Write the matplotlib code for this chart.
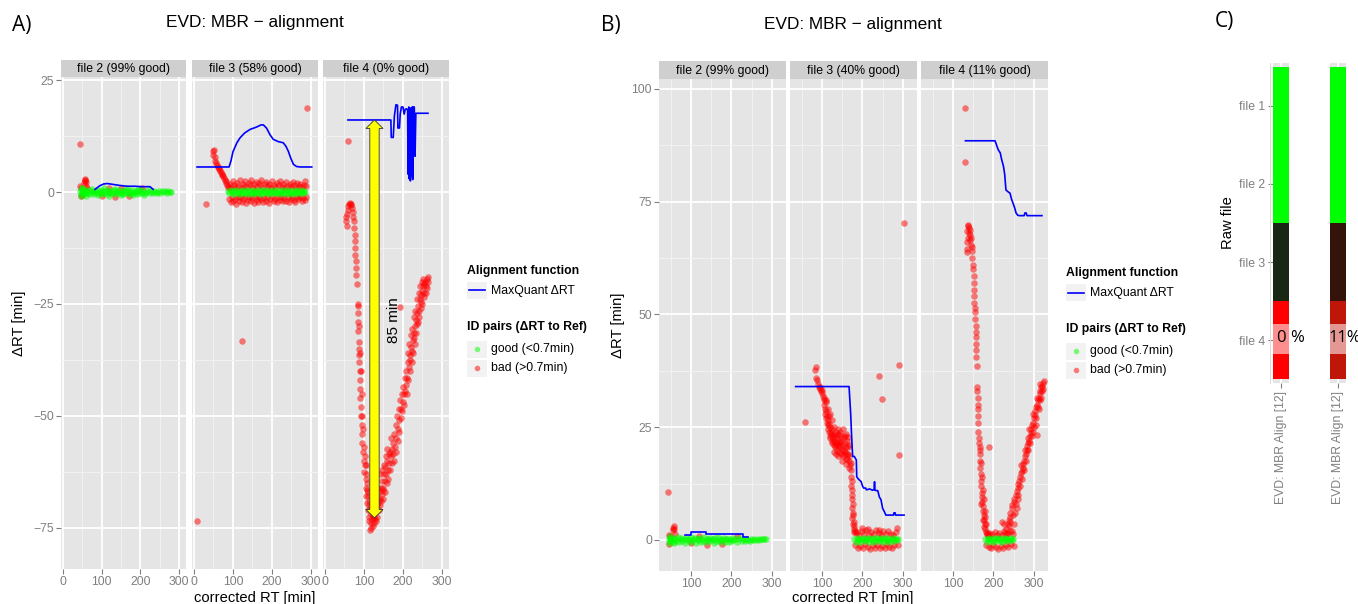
import numpy as np
import matplotlib.pyplot as plt
from matplotlib.patches import Polygon

# =========================
# EVD: MBR - alignment (panels A, B, C)
# =========================

# -------- 1) Data (read off the picture) --------
facet_titles_a = ["file 2 (99% good)", "file 3 (58% good)", "file 4 (0% good)"]
facet_titles_b = ["file 2 (99% good)", "file 3 (40% good)", "file 4 (11% good)"]

# panel A, file 2
a2_good = [(45, 0.3), (46, -0.9), (47, -0.4), (48, 1.0), (49, 0.5), (50, 0.8), (51, -0.2), (53, 0.1),
           (55, -0.5), (57, 0.4), (59, -0.3), (60, -0.8), (62, 0.2), (65, -0.1), (68, 0.5), (71, -0.4),
           (74, 0.0), (75, 0.7), (77, 0.3), (80, -0.5), (83, 0.2), (86, -0.3), (89, 0.4), (90, -0.7),
           (92, -0.2), (95, 0.1), (98, 0.5), (101, -0.4), (104, 0.2), (105, 0.8), (107, -0.1), (110, 0.3),
           (113, -0.5), (116, 0.4), (119, 0.0), (120, -0.8), (122, -0.3), (125, 0.2), (128, -0.2),
           (131, 0.5), (134, -0.4), (135, 0.7), (137, 0.1), (140, 0.3), (143, -0.3), (146, 0.4),
           (149, -0.1), (150, -0.7), (152, 0.2), (155, -0.5), (158, 0.3), (161, -0.2), (164, 0.5),
           (165, 0.8), (167, 0.0), (170, -0.4), (173, 0.2), (176, -0.1), (179, 0.4), (180, -0.7),
           (182, -0.3), (185, 0.1), (188, 0.3), (191, -0.4), (194, 0.2), (195, 0.6), (197, -0.2),
           (200, 0.4), (204, -0.1), (208, 0.3), (210, -0.6), (212, -0.3), (216, 0.1), (220, 0.4),
           (224, -0.2), (228, 0.2), (232, -0.3), (236, 0.3), (240, 0.0), (244, -0.2), (248, 0.3),
           (252, -0.1), (256, 0.2), (260, 0.0), (264, 0.3), (268, -0.1), (272, 0.2), (276, 0.1), (280, 0.0)]
a2_bad = [(44, 10.7), (45, 1.3), (46, -0.9), (47, 0.9), (48, -0.6), (55, 2.0), (56, 2.8), (57, 2.5),
          (58, 3.0), (59, 2.2), (60, 1.4), (62, 0.9), (100, -0.9), (118, 1.0), (135, -1.0), (150, 0.9),
          (172, -0.9), (205, 0.9)]
a2_line = [(83, 0.6), (95, 1.4), (105, 1.8), (115, 1.9), (130, 1.7), (145, 1.5), (165, 1.3), (185, 1.3),
           (205, 1.2), (225, 1.2), (233, 0.6)]

# panel A, file 3
a3_good = [(88, 0.2), (91, -0.3), (94, 0.4), (97, -0.1), (100, 0.3), (103, -0.4), (106, 0.1), (109, 0.5),
           (112, -0.2), (115, 0.3), (118, -0.5), (121, 0.2), (124, -0.1), (127, 0.4), (130, -0.3),
           (133, 0.1), (136, 0.5), (139, -0.4), (142, 0.2), (145, -0.2), (148, 0.4), (151, -0.5),
           (154, 0.1), (157, 0.3), (160, -0.3), (163, 0.5), (166, -0.1), (169, 0.2), (172, -0.4),
           (175, 0.4), (178, -0.2), (181, 0.1), (184, 0.5), (187, -0.3), (190, 0.2), (193, -0.5),
           (196, 0.3), (199, -0.1), (202, 0.4), (205, -0.3), (208, 0.1), (211, 0.5), (214, -0.2),
           (217, 0.3), (220, -0.4), (223, 0.2), (226, -0.1), (229, 0.4), (232, -0.3), (235, 0.1),
           (238, 0.5), (241, -0.4), (244, 0.2), (247, -0.2), (250, 0.3), (253, -0.5), (256, 0.1),
           (259, 0.4), (262, -0.3), (265, 0.2), (268, -0.1), (271, 0.4), (274, -0.3), (277, 0.2),
           (280, -0.2), (283, 0.3), (285, 0.0)]
a3_bad = [(49, 9.1), (50, 8.3), (51, 9.5), (53, 7.8), (55, 7.0), (57, 6.6), (59, 6.0), (61, 5.6),
          (63, 5.4), (65, 5.1), (67, 4.8), (69, 4.5), (71, 4.1), (73, 3.8), (75, 3.5), (77, 3.2),
          (79, 2.8), (81, 2.4), (83, 2.0), (85, 1.6), (87, 1.2), (89, 1.0),
          (92, 1.8), (96, 1.2), (99, 2.4), (103, 1.5), (106, 0.9), (110, 2.1), (114, 1.4), (117, 2.7),
          (121, 1.0), (125, 1.9), (128, 1.3), (132, 2.5), (136, 1.1), (140, 2.0), (143, 1.6), (147, 2.8),
          (151, 1.0), (155, 1.7), (159, 2.3), (162, 1.2), (166, 2.0), (170, 1.5), (173, 2.6), (177, 1.0),
          (181, 1.8), (185, 2.2), (189, 1.3), (193, 1.9), (197, 1.0), (201, 2.4), (205, 1.5), (209, 1.1),
          (213, 2.0), (217, 1.6), (221, 2.5), (225, 1.2), (229, 1.8), (233, 1.0), (237, 2.2), (241, 1.4),
          (245, 1.9), (249, 1.1), (253, 2.3), (257, 1.5), (261, 1.0), (265, 2.0), (269, 1.4), (273, 1.8),
          (277, 1.1), (281, 1.6), (285, 2.4), (288, 1.3),
          (90, -1.5), (94, -2.3), (98, -1.1), (101, -2.0), (105, -1.6), (108, -2.6), (112, -1.2),
          (116, -1.9), (119, -1.0), (123, -2.2), (127, -1.5), (131, -1.1), (134, -2.4), (138, -1.7),
          (142, -1.2), (146, -2.0), (149, -1.4), (153, -2.5), (157, -1.1), (161, -1.8), (164, -2.2),
          (168, -1.0), (172, -1.6), (176, -2.3), (180, -1.3), (184, -1.9), (188, -1.1), (192, -2.4),
          (196, -1.5), (200, -1.0), (204, -2.0), (208, -1.6), (212, -2.3), (216, -1.2), (220, -1.8),
          (224, -1.0), (228, -2.1), (232, -1.4), (236, -1.9), (240, -1.1), (244, -2.2), (248, -1.5),
          (252, -1.0), (256, -1.8), (260, -2.3), (264, -1.2), (268, -1.6), (272, -1.0), (276, -1.9),
          (280, -1.3), (284, -1.7), (287, -1.0),
          (32, -2.6), (290, 18.8), (124, -33.3), (7, -73.5)]
a3_line = [(8, 5.6), (90, 5.6), (95, 7.0), (100, 9.0), (110, 11.0), (118, 12.1), (130, 13.2), (144, 14.0),
           (160, 14.5), (172, 15.0), (178, 15.0), (186, 14.3), (195, 12.8), (203, 11.8), (215, 11.3),
           (229, 11.0), (236, 10.2), (242, 9.1), (248, 7.6), (255, 6.2), (263, 5.7), (273, 5.6), (302, 5.6)]

# panel A, file 4
a4_good = []
a4_bad = [(59, 11.4), (192, -25.7),
          (54, -5.5), (55, -6.5), (56, -7.5), (57, -5.0), (58, -4.0), (60, -3.2), (62, -2.7), (64, -2.5),
          (66, -2.7), (68, -3.0), (70, -3.5), (72, -4.5), (73, -5.5), (74, -6.5), (75, -8.0), (76, -9.5),
          (77, -11.0), (78, -12.5), (78, -14.0), (79, -15.5), (80, -17.0), (80, -18.5), (81, -20.5),
          (84, -25.5), (85, -27.0), (85, -29.0), (86, -31.0), (87, -33.5), (87, -35.0), (88, -36.5),
          (88, -38.0), (89, -40.0), (90, -42.0), (90, -44.0), (91, -46.0), (92, -48.0), (93, -50.0),
          (94, -52.0), (95, -54.0), (96, -56.0), (98, -58.0), (100, -60.0), (101, -62.5), (103, -61.0),
          (104, -64.0), (105, -66.0), (106, -68.0), (108, -69.5), (110, -71.0), (112, -72.5),
          (114, -73.5), (115, -75.5), (117, -75.0), (119, -74.0), (121, -73.0), (123, -72.5),
          (125, -71.5), (127, -72.5), (129, -73.0), (131, -71.0), (133, -70.0), (135, -68.5),
          (137, -69.5), (139, -67.0), (141, -68.5), (143, -66.0), (145, -67.5), (147, -64.5),
          (149, -66.0), (151, -63.0), (153, -64.5), (155, -61.5), (157, -63.0), (159, -60.0),
          (161, -62.0), (163, -58.5), (165, -60.5), (167, -62.0), (169, -59.0), (171, -57.5),
          (173, -60.5), (175, -56.0), (177, -54.0), (179, -57.0), (181, -52.0), (183, -55.0),
          (185, -50.0), (187, -53.0), (189, -48.5), (191, -51.0), (193, -46.5), (195, -48.5),
          (197, -45.0), (199, -47.0), (201, -43.5), (203, -45.0), (205, -41.5), (207, -43.0),
          (209, -40.0), (211, -41.5), (213, -38.0), (215, -39.0), (217, -36.5), (219, -37.5),
          (221, -34.5), (223, -35.5), (225, -33.0), (227, -31.5), (229, -32.5), (231, -30.0),
          (233, -28.5), (235, -29.5), (237, -27.0), (239, -25.5), (241, -26.5), (243, -24.0),
          (245, -23.0), (247, -24.5), (249, -22.0), (251, -21.0), (253, -22.5), (255, -20.5),
          (257, -20.0), (259, -21.0), (261, -19.5), (263, -19.0), (264, -20.0),
          (86, -25.0), (88, -30.0), (90, -36.0), (92, -40.0), (94, -45.0), (96, -50.0), (98, -53.0),
          (100, -57.0), (102, -59.0), (104, -61.0), (106, -63.0), (107, -65.0), (109, -66.5),
          (111, -68.0), (113, -70.0),
          (110, -67.0), (113, -69.0), (116, -70.5), (118, -72.0), (120, -70.0), (122, -69.0),
          (124, -74.5), (126, -74.0), (128, -70.0), (130, -68.0), (132, -73.5), (134, -72.5),
          (136, -66.0), (138, -71.0), (140, -70.0), (142, -63.0), (144, -69.0), (146, -62.0),
          (148, -68.5), (150, -66.5), (152, -61.0), (154, -67.0), (156, -59.0), (158, -65.0),
          (160, -57.5), (162, -64.0), (166, -58.0), (170, -55.0), (174, -58.5), (178, -60.0),
          (182, -58.0), (186, -55.5), (190, -53.5), (194, -50.5), (198, -49.0), (202, -47.5),
          (206, -44.5), (210, -45.0), (214, -42.0), (218, -40.0), (222, -38.0), (226, -36.0),
          (230, -34.0), (234, -31.5), (238, -29.0), (242, -28.0), (246, -26.0), (250, -25.0),
          (254, -23.5), (258, -22.5), (262, -21.5), (212, -36.0), (216, -34.0), (220, -32.0),
          (224, -30.5), (228, -28.0), (232, -26.5), (236, -24.0), (240, -22.5), (244, -21.0),
          (248, -20.0), (252, -19.5)]
a4_line = [(59, 16.1), (169, 16.1), (170, 12.2), (175, 12.2), (178, 17.0), (182, 19.5), (186, 19.4),
           (187, 14.3), (191, 14.3), (193, 17.5), (196, 19.0), (200, 19.0), (203, 17.4), (206, 18.5),
           (210, 18.6), (212, 18.2), (213, 4.0), (215, 19.0), (216, 3.0), (218, 18.8), (219, 2.5),
           (221, 18.5), (222, 3.5), (224, 19.0), (225, 2.8), (226, 19.0), (229, 19.0), (231, 8.0),
           (233, 17.6), (264, 17.6)]
arrow_x, arrow_top, arrow_bottom = 127, 16.1, -72.8
arrow_label = "85 min"

# panel B, file 2
b2_good = [(45, 0.2), (46, -0.8), (47, -0.3), (48, 0.9), (49, 0.4), (51, -0.1), (53, 0.5), (55, -0.4),
           (57, 0.2), (59, -0.6), (61, 0.3), (64, -0.2), (67, 0.6), (70, -0.5), (73, 0.1), (76, 0.4),
           (79, -0.3), (82, 0.2), (85, -0.6), (88, 0.5), (91, -0.1), (94, 0.3), (97, -0.5), (100, 0.6),
           (103, -0.2), (106, 0.1), (109, 0.4), (112, -0.6), (115, 0.3), (118, -0.1), (121, 0.5),
           (124, -0.4), (127, 0.2), (130, -0.2), (133, 0.6), (136, -0.5), (139, 0.1), (142, 0.3),
           (145, -0.3), (148, 0.5), (151, -0.1), (154, 0.2), (157, -0.6), (160, 0.4), (163, -0.2),
           (166, 0.6), (169, 0.0), (172, -0.5), (175, 0.3), (178, -0.1), (181, 0.5), (184, -0.4),
           (187, 0.1), (190, 0.3), (193, -0.5), (196, 0.2), (199, -0.2), (202, 0.5), (205, -0.1),
           (209, 0.3), (213, -0.4), (217, 0.1), (221, 0.4), (225, -0.3), (229, 0.2), (233, -0.2),
           (237, 0.3), (241, 0.0), (245, -0.2), (249, 0.2), (253, -0.1), (257, 0.3), (261, 0.0),
           (265, 0.2), (269, -0.1), (273, 0.2), (277, 0.1), (281, 0.3), (285, 0.1)]
b2_bad = [(44, 10.6), (45, 1.0), (46, -0.9), (48, 0.8), (55, 2.2), (56, 2.7), (57, 3.1), (58, 2.4),
          (60, 1.2), (100, -0.8), (120, 0.9), (140, -1.2), (178, -1.0), (215, 0.8)]
b2_line = [(85, 1.1), (99, 1.1), (99, 1.8), (138, 1.8), (138, 1.3), (228, 1.3), (228, 0.6), (240, 0.6)]

# panel B, file 3
b3_good = [(180, 0.2), (183, -0.4), (186, 0.5), (189, -0.1), (192, 0.3), (195, -0.5), (198, 0.1),
           (201, 0.4), (204, -0.3), (207, 0.2), (210, -0.1), (213, 0.5), (216, -0.4), (219, 0.1),
           (222, 0.3), (225, -0.5), (228, 0.4), (231, -0.2), (234, 0.1), (237, 0.5), (240, -0.3),
           (243, 0.2), (246, -0.1), (249, 0.4), (252, -0.4), (255, 0.2), (258, 0.5), (261, -0.2),
           (264, 0.1), (267, -0.5), (270, 0.3), (273, -0.1), (276, 0.4), (279, -0.3), (282, 0.2),
           (285, -0.1), (287, 0.3)]
b3_bad = [(59, 26.1), (84, 37.7), (85, 38.3), (86, 36.0), (87, 35.5), (90, 34.5), (92, 34.0), (94, 33.5),
          (96, 33.8), (98, 33.0), (100, 32.5), (101, 33.2), (103, 32.0), (104, 31.0), (105, 30.0),
          (106, 31.5), (107, 29.0), (108, 28.0), (109, 30.5), (110, 27.0), (111, 28.5), (112, 26.0),
          (113, 27.5), (114, 25.5), (115, 26.5), (116, 24.5), (117, 25.8), (118, 24.0), (119, 23.0),
          (120, 25.0), (121, 22.5), (122, 24.0), (123, 23.5), (124, 22.0), (125, 24.5), (126, 21.5),
          (127, 23.0), (128, 22.5), (129, 21.0), (130, 23.5), (131, 22.0), (132, 20.5), (133, 21.8),
          (134, 23.0), (135, 21.0), (136, 22.5), (137, 20.0), (138, 21.5), (139, 23.5), (140, 21.0),
          (141, 19.5), (142, 22.0), (143, 20.5), (144, 24.0), (145, 21.5), (146, 19.0), (147, 20.5),
          (148, 22.0), (150, 20.0), (151, 18.5), (152, 21.0), (153, 24.5), (154, 20.0), (155, 19.0),
          (156, 21.5), (157, 23.0), (158, 19.5), (159, 18.0), (160, 20.5), (161, 22.0), (162, 19.0),
          (163, 18.0), (164, 22.9), (165, 19.0), (166, 21.0), (167, 17.5), (168, 18.5), (169, 16.5),
          (110, 31.0), (115, 29.0), (118, 27.5), (120, 28.0), (125, 26.5), (130, 25.0), (135, 24.0),
          (140, 24.5), (145, 23.2), (150, 22.5), (155, 22.8), (160, 23.5), (165, 20.5), (130, 19.5),
          (135, 19.0), (140, 18.5), (150, 17.5), (160, 16.8), (166, 16.0),
          (172, 17.0), (173, 15.5), (172, 14.0), (174, 13.0), (173, 12.0), (175, 11.0), (174, 10.0),
          (175, 9.0), (176, 8.0), (175, 7.0), (176, 6.0), (177, 5.5), (175, 4.8), (178, 4.0),
          (177, 3.5), (179, 3.0), (180, 2.5), (182, 2.0), (178, 1.8), (184, 1.5),
          (182, -1.2), (186, 1.8), (189, -1.8), (192, 1.1), (195, -1.4), (198, 2.0), (201, -1.9),
          (204, 1.3), (207, -1.0), (210, 2.2), (213, -1.6), (216, 1.0), (219, -2.0), (222, 1.7),
          (225, -1.2), (228, 1.2), (231, -1.8), (234, 2.1), (237, -1.1), (240, 1.5), (243, -1.9),
          (246, 1.0), (249, -1.3), (252, 1.9), (255, -1.7), (258, 1.2), (261, -1.0), (264, 2.0),
          (267, -1.5), (270, 1.4), (273, -1.9), (276, 1.1), (279, -1.2), (282, 1.8), (285, 2.6),
          (287, -1.1), (200, 2.6), (215, 2.5), (240, 2.3),
          (241, 36.4), (249, 31.3), (290, 38.8), (290, 18.8), (303, 70.2)]
b3_line = [(35, 34.0), (167, 34.0), (169, 31.0), (171, 28.0), (173, 23.7), (175, 20.0), (176, 18.5),
           (180, 18.5), (185, 17.7), (186, 14.0), (190, 13.5), (197, 12.9), (200, 12.0), (203, 11.5),
           (208, 11.5), (210, 11.1), (218, 11.3), (225, 11.0), (229, 11.2), (230, 12.9), (231, 11.0),
           (238, 10.9), (242, 9.5), (246, 8.9), (250, 7.0), (254, 6.3), (258, 5.5), (277, 5.5),
           (278, 6.0), (281, 6.0), (282, 5.5), (303, 5.5)]

# panel B, file 4
b4_good = [(180, 0.3), (183, -0.4), (186, 0.1), (189, 0.5), (192, -0.2), (195, 0.3), (198, -0.5),
           (201, 0.2), (204, 0.4), (207, -0.3), (210, 0.1), (213, 0.5), (216, -0.2), (219, 0.3),
           (222, -0.4), (225, 0.2), (228, 0.4), (231, -0.1), (234, 0.3), (237, -0.3), (240, 0.2),
           (243, 0.4), (246, -0.1), (249, 0.2)]
b4_bad = [(130, 95.7), (131, 83.8), (188, 20.7),
          (134, 66.0), (135, 68.5), (136, 69.5), (137, 67.0), (138, 69.9), (139, 68.0), (140, 69.2),
          (141, 66.5), (142, 68.8), (143, 67.5), (144, 65.5), (145, 67.0), (146, 65.0), (147, 64.0),
          (134, 64.5), (135, 63.8), (148, 62.5), (149, 61.0), (150, 60.0), (151, 58.5), (151, 57.0),
          (152, 55.5), (153, 54.0), (153, 52.5), (154, 51.5), (155, 50.5), (155, 49.0), (156, 47.5),
          (156, 46.0), (157, 45.0), (157, 43.5), (158, 42.0), (158, 40.5), (159, 38.5), (160, 34.0),
          (160, 33.0), (161, 31.5), (161, 30.0), (162, 29.0), (162, 27.5), (163, 26.0), (163, 24.0),
          (164, 22.5), (165, 21.5), (166, 20.0), (167, 19.0), (167, 17.5), (168, 16.0), (169, 14.5),
          (169, 13.0), (170, 12.0), (171, 10.5), (172, 9.5), (173, 8.5), (174, 7.5), (175, 6.5),
          (176, 5.5), (177, 4.5), (178, 3.5), (180, 2.5), (182, 1.8), (184, 1.2), (186, 0.8),
          (168, 20.5), (170, 17.0), (172, 14.0), (174, 11.0), (176, 9.0), (178, 6.5), (180, 5.0),
          (182, 3.5), (170, 8.0), (174, 4.5), (176, 2.8), (190, 1.5),
          (181, -1.2), (185, 1.5), (188, -1.6), (191, 1.0), (194, -1.9), (197, 1.4), (200, -1.1),
          (203, 1.8), (206, -1.5), (209, 1.1), (212, -2.0), (215, 1.6), (218, -1.3), (221, 1.0),
          (224, -1.8), (227, 1.9), (230, -1.2), (233, 1.3), (236, -1.6), (240, 2.0), (244, -1.0),
          (248, 1.2), (252, -1.4), (222, 4.0), (226, 3.5),
          (228, 1.5), (232, 2.5), (236, 3.5), (238, 4.5), (240, 5.0), (242, 6.0), (245, 7.0), (247, 7.8),
          (250, 8.5), (252, 9.0), (255, 10.0), (258, 10.8), (260, 11.5), (262, 12.5), (264, 13.0),
          (266, 14.0), (268, 14.8), (270, 15.2), (272, 16.0), (274, 16.8), (276, 17.5), (278, 18.5),
          (280, 19.0), (282, 20.0), (284, 20.8), (286, 21.5), (288, 22.0), (290, 23.0), (292, 23.8),
          (294, 24.5), (296, 25.5), (298, 26.0), (300, 27.0), (302, 27.8), (304, 28.5), (306, 29.5),
          (308, 30.0), (310, 31.0), (312, 31.5), (314, 32.5), (316, 33.0), (318, 33.8), (320, 34.2),
          (322, 34.8), (324, 35.2), (240, 4.0), (256, 8.0), (265, 12.0), (285, 22.5), (297, 24.0),
          (305, 25.5), (312, 29.0), (318, 31.5), (258, 7.0), (250, 3.5), (245, 2.0), (262, 10.0),
          (308, 23.3),
          (270, 13.5), (275, 15.5), (280, 17.5), (285, 20.0), (290, 21.5), (295, 23.0), (300, 25.0),
          (305, 27.0), (310, 29.5), (315, 31.0), (320, 33.0), (268, 16.5), (278, 20.0), (288, 24.5),
          (298, 28.0), (308, 31.5), (316, 34.5), (323, 33.5), (253, 6.0), (260, 9.0), (248, 5.5),
          (238, 3.0), (235, 1.5)]
b4_line = [(131, 88.5), (204, 88.5), (208, 87.5), (212, 86.5), (217, 85.8), (220, 84.5), (225, 82.8),
           (228, 81.0), (231, 77.6), (236, 77.2), (241, 76.9), (245, 75.5), (250, 74.3), (253, 73.5),
           (256, 72.5), (260, 72.0), (264, 71.9), (276, 71.9), (278, 72.5), (281, 72.5), (283, 71.9),
           (320, 71.9)]

# panel C
c_files = ["file 1", "file 2", "file 3", "file 4"]
c_columns = ["EVD: MBR Align [12]", "EVD: MBR Align [12]"]
c_colors_1 = ["#00FF00", "#00FF00", "#182814", "#FF0000"]
c_colors_2 = ["#00FF00", "#00FF00", "#33130A", "#C0160A"]
c_labels = ["0 %", "11%"]

# -------- 2) Helpers --------
plt.rcParams['font.family'] = ['Liberation Sans', 'DejaVu Sans']
W, H = 1358, 604
fig = plt.figure(figsize=(W / 100, H / 100), dpi=100)

GREY_TXT = "#7F7F7F"
PT_SIZE = 22


def px_axes(l, t, r, b):
    return fig.add_axes([l / W, 1 - b / H, (r - l) / W, (b - t) / H])


def fig_text(x, y, s, **kw):
    fig.text(x / W, 1 - y / H, s, **kw)


def clean(ax):
    for s in ax.spines.values():
        s.set_visible(False)
    ax.set_xticks([])
    ax.set_yticks([])


def gg_panel(ax, xlim, ylim, xmaj, ymaj, show_y):
    ax.set_facecolor("#E5E5E5")
    ax.set_xlim(xlim)
    ax.set_ylim(ylim)
    for v in xmaj:
        ax.axvline(v + 50, color="#F2F2F2", lw=0.7, zorder=0)
        ax.axvline(v, color="white", lw=1.3, zorder=0)
    ax.axvline(xmaj[0] - 50, color="#F2F2F2", lw=0.7, zorder=0)
    for v in ymaj:
        ax.axhline(v + 12.5, color="#F2F2F2", lw=0.7, zorder=0)
        ax.axhline(v, color="white", lw=1.3, zorder=0)
    for s in ax.spines.values():
        s.set_visible(False)
    ax.set_xticks(xmaj)
    ax.set_yticks(ymaj)
    ax.tick_params(colors=GREY_TXT, labelcolor=GREY_TXT, length=3.5, width=0.8, labelsize=8.8, pad=1.5)
    if not show_y:
        ax.tick_params(axis="y", left=False, labelleft=False)


def facet(box, top, bottom, strip_top, title, good, bad, line, xlim, ylim, xmaj, ymaj, show_y):
    l, r = box
    ax = px_axes(l, top, r, bottom)
    gg_panel(ax, xlim, ylim, xmaj, ymaj, show_y)
    if bad:
        p = np.array(bad)
        ax.scatter(p[:, 0], p[:, 1], s=PT_SIZE, color="#FF0000", alpha=0.5, lw=0, zorder=2)
    if good:
        p = np.array(good)
        ax.scatter(p[:, 0], p[:, 1], s=PT_SIZE, color="#00FF00", alpha=0.5, lw=0, zorder=3)
    p = np.array(line)
    ax.plot(p[:, 0], p[:, 1], color="#0000FF", lw=1.2, zorder=4)
    st = px_axes(l, strip_top, r, top)
    st.set_facecolor("#CFCFCF")
    clean(st)
    st.text(0.5, 0.45, title, ha="center", va="center", fontsize=8.8, transform=st.transAxes)
    return ax


def legend(x, y0):
    fig_text(x, y0, "Alignment function", fontsize=8.8, fontweight="bold", va="center")
    k = px_axes(x, y0 + 11, x + 20, y0 + 28)
    k.set_facecolor("#F2F2F2")
    k.plot([0.1, 0.9], [0.5, 0.5], color="#0000FF", lw=1.2)
    k.set_xlim(0, 1)
    k.set_ylim(0, 1)
    clean(k)
    fig_text(x + 24, y0 + 20, "MaxQuant \u0394RT", fontsize=8.8, va="center")
    fig_text(x, y0 + 56, "ID pairs (\u0394RT to Ref)", fontsize=8.8, fontweight="bold", va="center")
    for i, (col, lab) in enumerate([("#00FF00", "good (<0.7min)"), ("#FF0000", "bad (>0.7min)")]):
        yy = y0 + 78 + 19 * i
        k = px_axes(x, yy - 8.5, x + 20, yy + 8.5)
        k.set_facecolor("#F2F2F2")
        k.scatter([0.5], [0.5], s=16, color=col, alpha=0.5, lw=0)
        k.set_xlim(0, 1)
        k.set_ylim(0, 1)
        clean(k)
        fig_text(x + 24, yy, lab, fontsize=8.8, va="center")


# -------- 3) Panel A --------
boxes_a = [(61, 186), (192, 318), (323, 449)]
data_a = [(a2_good, a2_bad, a2_line), (a3_good, a3_bad, a3_line), (a4_good, a4_bad, a4_line)]
axes_a = []
for i, (box, (g, b, ln)) in enumerate(zip(boxes_a, data_a)):
    ax = facet(box, 77, 569, 60, facet_titles_a[i], g, b, ln, (-5, 318), (-84.2, 25.7),
               [0, 100, 200, 300], [-75, -50, -25, 0, 25], i == 0)
    axes_a.append(ax)

# yellow double arrow in file 4
ax = axes_a[2]
hw, sw, hl = 22, 12, 1.9  # half head width, half shaft width (x units), head length (y units)
verts = [(arrow_x, arrow_top), (arrow_x + hw, arrow_top - hl), (arrow_x + sw, arrow_top - hl),
         (arrow_x + sw, arrow_bottom + hl), (arrow_x + hw, arrow_bottom + hl), (arrow_x, arrow_bottom),
         (arrow_x - hw, arrow_bottom + hl), (arrow_x - sw, arrow_bottom + hl),
         (arrow_x - sw, arrow_top - hl), (arrow_x - hw, arrow_top - hl)]
ax.add_patch(Polygon(verts, closed=True, facecolor="#FFFF00", edgecolor="#333333", lw=0.6, zorder=5))
ax.text(178, -28.6, arrow_label, rotation=90, ha="center", va="center", fontsize=11, zorder=6)

fig_text(22, 26, "A)", fontsize=15, family=["Open Sans", "DejaVu Sans"], ha="center", va="center")
fig_text(255, 22, "EVD: MBR \u2212 alignment", fontsize=12.4, ha="center", va="center")
fig_text(255, 598, "corrected RT [min]", fontsize=10.6, ha="center", va="center")
fig_text(19, 323, "\u0394RT [min]", fontsize=10.6, ha="center", va="center", rotation=90)
legend(467, 271)

# -------- 4) Panel B --------
boxes_b = [(659, 786), (790, 917), (921, 1048)]
data_b = [(b2_good, b2_bad, b2_line), (b3_good, b3_bad, b3_line), (b4_good, b4_bad, b4_line)]
for i, (box, (g, b, ln)) in enumerate(zip(boxes_b, data_b)):
    facet(box, 79, 571, 61, facet_titles_b[i], g, b, ln, (21, 335), (-6.9, 102.2),
          [100, 200, 300], [0, 25, 50, 75, 100], i == 0)

fig_text(611, 26, "B)", fontsize=15, family=["Open Sans", "DejaVu Sans"], ha="center", va="center")
fig_text(853, 24, "EVD: MBR \u2212 alignment", fontsize=12.4, ha="center", va="center")
fig_text(853, 598, "corrected RT [min]", fontsize=10.6, ha="center", va="center")
fig_text(618, 325, "\u0394RT [min]", fontsize=10.6, ha="center", va="center", rotation=90)
legend(1066, 273)

# -------- 5) Panel C --------
rows = np.arange(1, len(c_files) + 1)
c_boxes = [(1273, 1289), (1330, 1346)]
c_text_x = [0.25, -0.12]
for j, (box, cols) in enumerate(zip(c_boxes, [c_colors_1, c_colors_2])):
    ax = px_axes(box[0], 63, box[1], 383)
    ax.set_facecolor("#E5E5E5")
    ax.axvline(0.5, color="white", lw=1.3, zorder=0)
    ax.barh(rows, 1, left=0, height=1.0, color=cols, zorder=2)
    ax.axhspan(3.8, 4.18, color="white", alpha=0.56, lw=0, zorder=3)
    ax.text(c_text_x[j], 3.97, c_labels[j], ha="left", va="center", fontsize=12,
            family=["Open Sans", "DejaVu Sans"], clip_on=False, zorder=4)
    ax.set_xlim(0, 1)
    ax.set_ylim(4.55, 0.45)
    for s in ax.spines.values():
        s.set_visible(False)
    ax.set_xticks([0.5])
    ax.set_xticklabels([c_columns[j]], rotation=90, fontsize=8.8, color=GREY_TXT)
    ax.tick_params(colors=GREY_TXT, length=3.5, width=0.8, pad=2)
    if j == 0:
        ax.set_yticks(rows)
        ax.set_yticklabels(c_files, fontsize=8.8, color=GREY_TXT)
        ax.set_ylabel("Raw file", fontsize=10.6, labelpad=3)
    else:
        ax.set_yticks([])

fig.add_artist(plt.Line2D([1270 / W, 1270 / W], [1 - 383 / H, 1 - 63 / H], color="#DDDDDD", lw=0.8))
fig_text(1224, 21, "C)", fontsize=15, family=["Open Sans", "DejaVu Sans"], ha="center", va="center")

# -------- 6) Save --------
fig.savefig("out.png", dpi=100)
print("out.png saved")
